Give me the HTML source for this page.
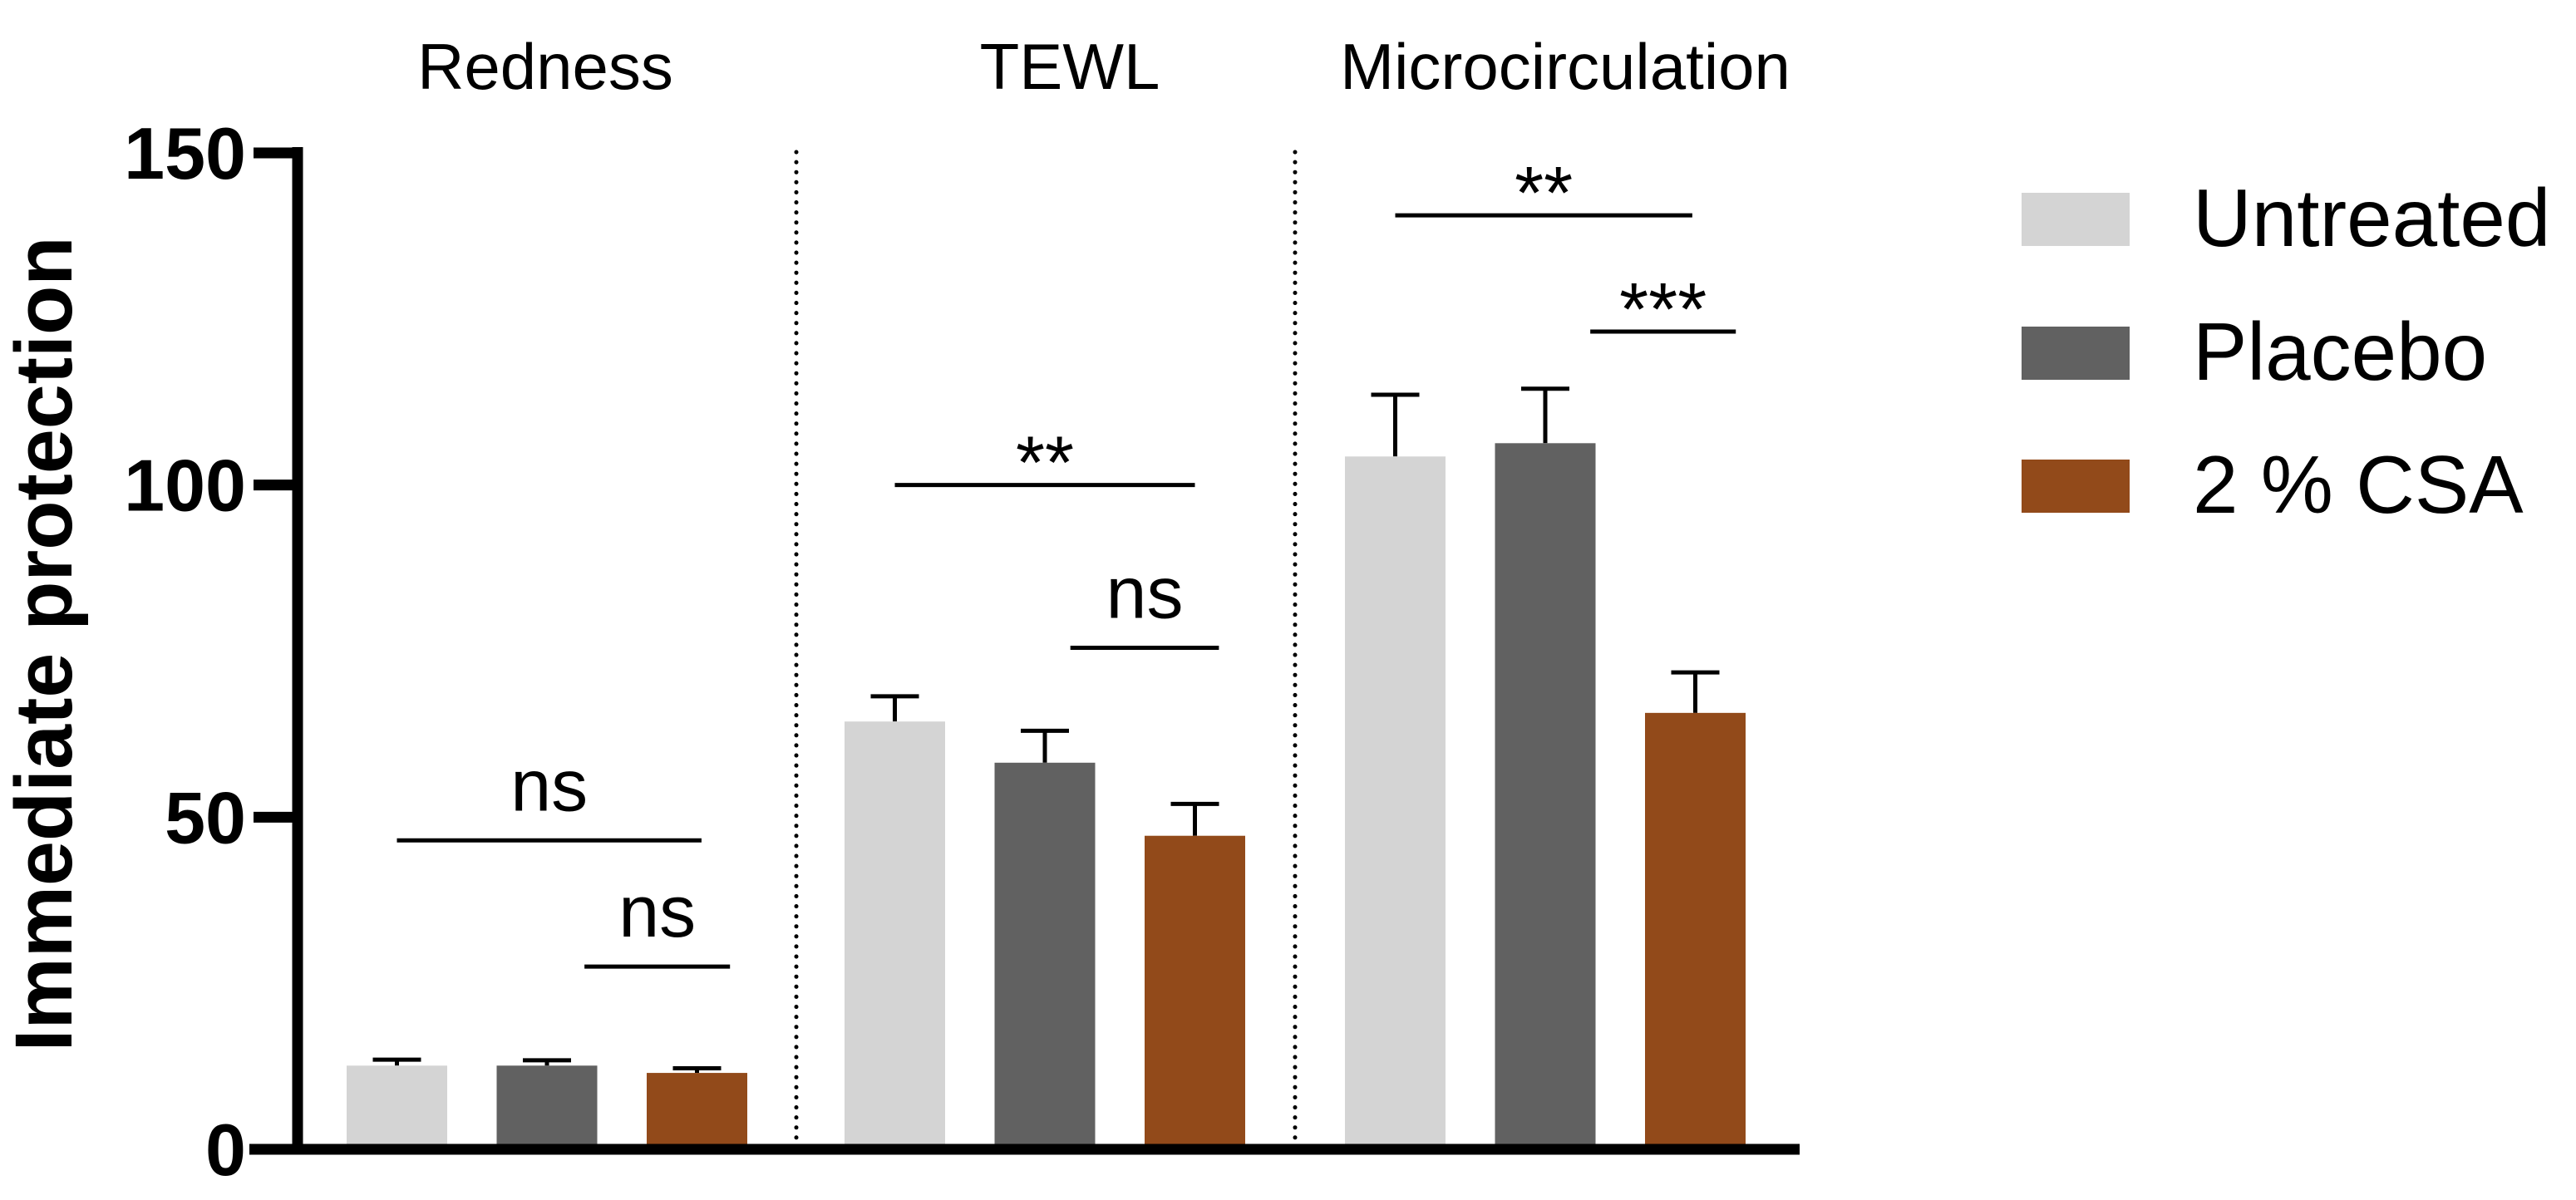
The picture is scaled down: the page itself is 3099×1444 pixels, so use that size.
<!DOCTYPE html>
<html><head><meta charset="utf-8"><style>
html,body{margin:0;padding:0;background:#fff;}
svg{display:block;font-family:"Liberation Sans",Arial,sans-serif;}
</style></head><body>
<svg id="chart" width="3099" height="1444" viewBox="0 0 3099 1444" xmlns="http://www.w3.org/2000/svg">
<g id="g"></g>
</svg>
<script>
const groups = ["Redness","TEWL","Microcirculation"];
const series = ["Untreated","Placebo","2 % CSA"];
const untreatedVals = [12.6, 64.4, 104.3];
const placeboVals = [12.6, 58.2, 106.3];
const csaVals = [11.5, 47.2, 65.7];
const untreatedErr = [0.9, 3.8, 9.3];
const placeboErr = [0.8, 4.8, 8.2];
const csaErr = [0.7, 4.8, 6.1];
const yTicks = [0, 50, 100, 150];
// significance brackets: group, from series position, to series position, y value, label
const sigGroup = [0, 0, 1, 1, 2, 2];
const sigFrom = [0, 1.25, 0, 1.17, 0, 1.3];
const sigTo = [2.03, 2.22, 2, 2.16, 1.98, 2.27];
const sigY = [46.5, 27.5, 100, 75.5, 140.6, 123.1];
const sigLabel = ["ns","ns","**","ns","**","***"];

const colors = ["#d4d4d4","#616161","#924a1a"];
const NS = "http://www.w3.org/2000/svg";
const g = document.getElementById('g');
const y0 = 1383, y150 = 184;
function yS(v){ return y0 - (v/150)*(y0-y150); }
const groupStart = [417, 1016, 1618];
const barStep = 180.5, barW = 121;
function xBar(gi, si){ return groupStart[gi] + si*barStep; }
function mk(tag, attrs){ const e=document.createElementNS(NS,tag); for(const k in attrs) e.setAttribute(k,attrs[k]); g.appendChild(e); return e; }

const vals=[untreatedVals,placeboVals,csaVals];
const errs=[untreatedErr,placeboErr,csaErr];
for(let si=0;si<3;si++){
  for(let gi=0;gi<3;gi++){
    const x=xBar(gi,si), v=vals[si][gi], e=errs[si][gi];
    const cx=x+barW/2;
    const st=mk('line',{x1:cx,x2:cx,y1:yS(v),y2:yS(v+e),stroke:'#000','stroke-width':5});
    
    
    const cp=mk('line',{x1:cx-29,x2:cx+29,y1:yS(v+e),y2:yS(v+e),stroke:'#000','stroke-width':5});
    
    
    const r=mk('rect',{x:x,y:yS(v),width:barW,height:yS(0)-yS(v),fill:colors[si]});
    
    
  }
}
[958, 1558].forEach(x=>{
  const l=mk('line',{x1:x,x2:x,y1:183,y2:1383,stroke:'#000','stroke-width':5,'stroke-dasharray':'0.1 12','stroke-linecap':'round'});
  
  
});
const ya=mk('line',{x1:358,x2:358,y1:177,y2:1389,stroke:'#000','stroke-width':13});


const xa=mk('line',{x1:300,x2:2165,y1:1383,y2:1383,stroke:'#000','stroke-width':13});


yTicks.forEach(t=>{
  const tl=mk('line',{x1:305,x2:358,y1:yS(t),y2:yS(t),stroke:'#000','stroke-width':13});
  
  
  const tx=mk('text',{x:296,y:yS(t)+31,'text-anchor':'end','font-size':88,'font-weight':'bold'});
  tx.textContent=t;
  
  
});
const yt=mk('text',{x:0,y:0,transform:'translate(86,775) rotate(-90)','text-anchor':'middle','font-size':97,'font-weight':'bold'});
yt.textContent='Immediate protection';


const titleX=[656,1287,1883];
groups.forEach((n,i)=>{
  const t=mk('text',{x:titleX[i],y:107,'text-anchor':'middle','font-size':78});
  t.textContent=n;
  
  
});
for(let k=0;k<sigLabel.length;k++){
  const gi=sigGroup[k];
  const xa1=xBar(gi,sigFrom[k])+barW/2, xa2=xBar(gi,sigTo[k])+barW/2;
  const yy=yS(sigY[k]);
  const l=mk('line',{x1:xa1,x2:xa2,y1:yy,y2:yy,stroke:'#000','stroke-width':5});
  
  
  const isStar=sigLabel[k].indexOf('*')>=0;
  const t=mk('text',{x:(xa1+xa2)/2,y:isStar?yy+4:yy-36,'text-anchor':'middle','font-size':isStar?90:88});
  t.textContent=sigLabel[k];
  
  
}
const legY=[232,393,553];
series.forEach((s,i)=>{
  const r=mk('rect',{x:2432,y:legY[i],width:130,height:64,fill:colors[i]});
  
  
  const t=mk('text',{x:2638,y:legY[i]+64,'font-size':98});
  t.textContent=s;
  
  
});
</script>
</body></html>
